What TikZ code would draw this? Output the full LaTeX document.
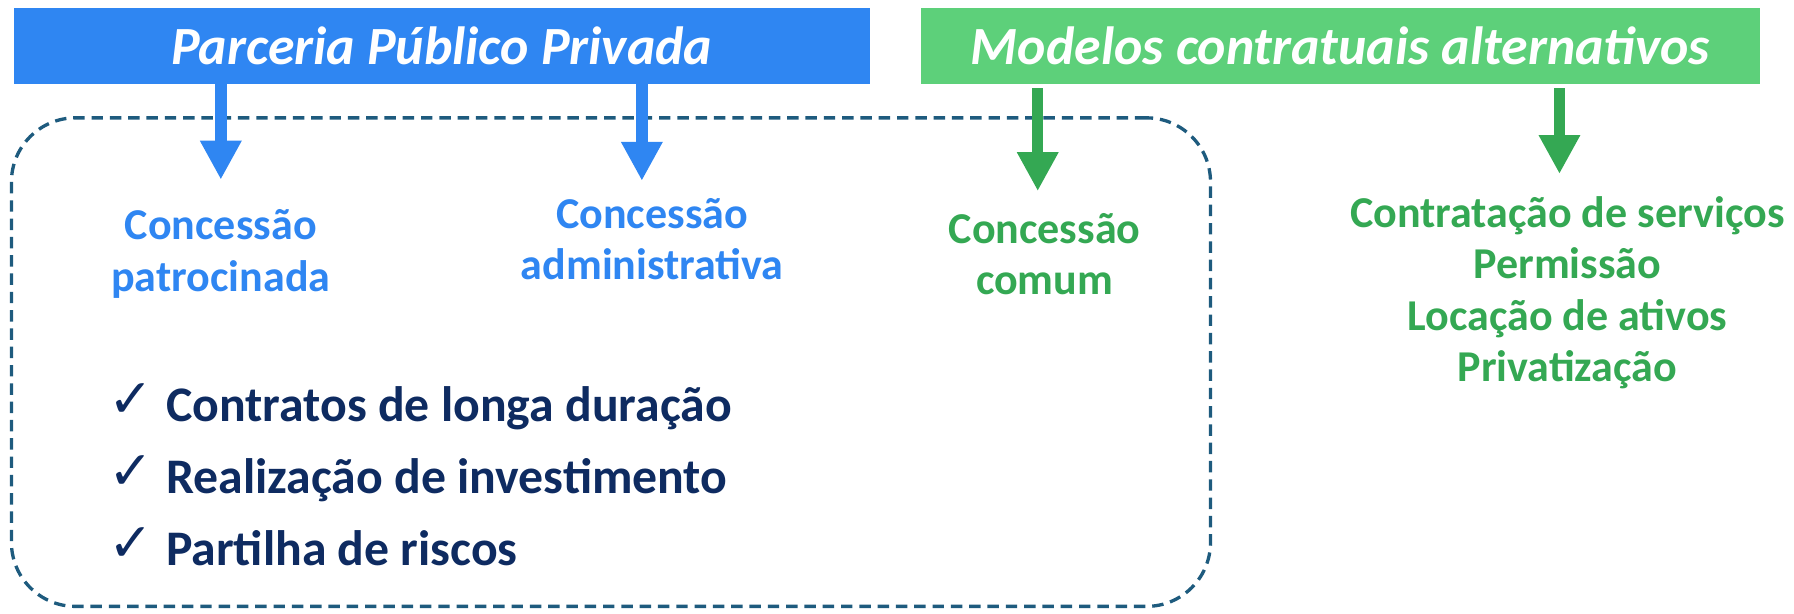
\documentclass[tikz,border=0pt]{standalone}
\usepackage{fontspec}
\setmainfont{Carlito}
\newfontfamily\symfont{DejaVu Sans}
\usetikzlibrary{arrows.meta}
\definecolor{pppblue}{HTML}{2F86F2}
\definecolor{altgreen}{HTML}{5DD07A}
\definecolor{darkgreen}{HTML}{34A853}
\definecolor{navy}{HTML}{0E2B61}
\definecolor{dashcol}{HTML}{1E5B7E}
\newcommand{\chkmark}{\makebox[50pt][l]{\raisebox{4pt}{\symfont\fontsize{47}{63}\selectfont ✓}}}
\begin{document}
\begin{tikzpicture}[x=1pt,y=-1pt,
  hdr/.style={rectangle, inner sep=0pt, text=white, font=\fontsize{47}{52}\selectfont\bfseries\itshape},
  sub/.style={align=center, inner sep=0pt, font=\fontsize{38.5}{45}\selectfont\bfseries},
  fatarrow/.style={line width=10pt, -{Triangle[width=34pt,length=34pt]}},
  grpbox/.style={draw=dashcol, line width=2.9pt, dash pattern=on 10pt off 6pt, rounded corners=56pt, inner sep=0pt},
  checklist/.style={align=left, inner sep=0pt, text=navy, font=\fontsize{43.5}{63}\selectfont\bfseries}
]
\useasboundingbox (0,0) rectangle (1568,536);
% group box
\node[grpbox, minimum width=1048pt, minimum height=427pt] (grp) at (534,316.5) {};
% headers
\node[hdr, fill=pppblue, minimum width=748pt, minimum height=66pt] (ppp) at (386,40) {Parceria Público Privada};
\node[hdr, fill=altgreen, minimum width=733pt, minimum height=66pt] (alt) at (1171.5,40) {Modelos contratuais alternativos};
% labels
\node[sub, text=pppblue] (patro) at (193,222) {Concessão\\patrocinada};
\node[sub, text=pppblue] (adm) at (570,209) {Concessão\\administrativa};
\node[sub, text=darkgreen] (comum) at (913,222) {Concessão\\comum};
\node[sub, text=darkgreen] (outros) at (1370,256) {Contratação de serviços\\Permissão\\Locação de ativos\\Privatização};
% arrows
\coordinate (a1s) at (193,73); \coordinate (a1e) at (193,157);
\coordinate (a2s) at (561,73); \coordinate (a2e) at (561,158);
\coordinate (a3s) at (907,77); \coordinate (a3e) at (907,167);
\coordinate (a4s) at (1363,77); \coordinate (a4e) at (1363,152);
\draw[fatarrow, pppblue] (a1s) -- (a1e);
\draw[fatarrow, pppblue] (a2s) -- (a2e);
\draw[fatarrow, darkgreen] (a3s) -- (a3e);
\draw[fatarrow, darkgreen] (a4s) -- (a4e);
% checklist
\node[checklist, anchor=west] (chk) at (95,415) {\chkmark Contratos de longa duração\\\chkmark Realização de investimento\\\chkmark Partilha de riscos};
\end{tikzpicture}
\end{document}
